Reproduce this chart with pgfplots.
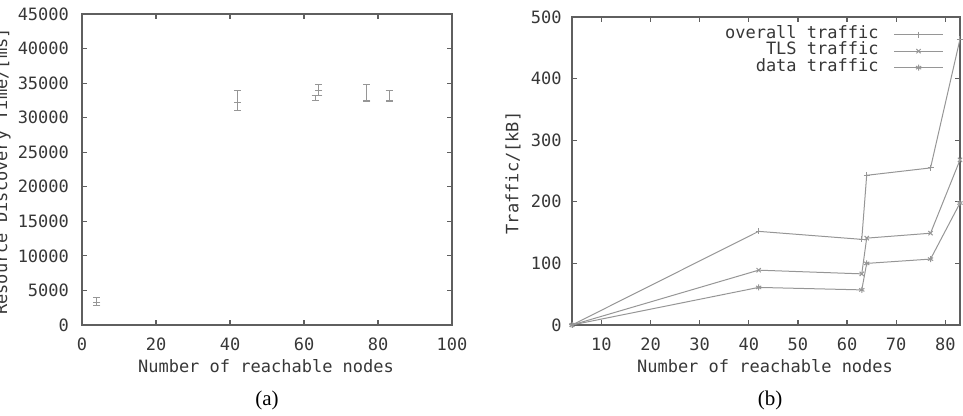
\documentclass[border=0pt]{standalone}
\usepackage{pgfplots}
\pgfplotsset{compat=1.18}
\usepackage{pgfplotstable}
\usepackage{fontspec}
\setmainfont{Liberation Serif}
\newfontfamily\gp{DejaVu Sans Mono}
\definecolor{axc}{RGB}{95,95,95}
\definecolor{txc}{RGB}{55,55,55}
\definecolor{lnc}{RGB}{150,150,150}

\pgfplotstableread{
x y ep em
4 3300 700 500
42 32200 1800 1200
63 32550 700 50
64 33900 950 750
77 32450 2300 50
83 32450 1550 50
}\discovery

\pgfplotstableread{
x overall tls data
4 0 0 0
42 152 89 61
63 139 83 57
64 243 141 100
77 255 149 107
83 464 268 198
}\traffic

\pgfplotsset{
 gpstyle/.style={
  scale only axis,
  axis line style={axc, line width=0.8pt},
  every tick/.style={axc, line width=0.6pt},
  tick align=inside,
  major tick length=2.5pt,
  minor tick num=0,
  ticklabel style={font=\gp\fontsize{8.5}{10}\selectfont, text=txc},
  /pgf/number format/assume math mode=true,
  /pgf/number format/set thousands separator={},
  scaled y ticks=false,
  xticklabel style={yshift=-3pt},
 }
}

\begin{document}
\begin{tikzpicture}
% (a)
\begin{axis}[gpstyle, at={(41pt,45.5pt)}, anchor=south west,
  width=185pt, height=155.5pt,
  xmin=0, xmax=100, ymin=0, ymax=45000,
  xtick={0,20,...,100}, ytick={0,5000,...,45000},
  yticklabel style={xshift=-3pt}]
\addplot[lnc, line width=0.5pt, only marks, mark=-, mark size=1.75pt,
  error bars/.cd, y dir=both, y explicit,
  error bar style={lnc, line width=0.5pt},
  error mark options={lnc, mark size=1.75pt, line width=0.5pt, rotate=90}]
  table[x=x, y=y, y error plus=ep, y error minus=em]{\discovery};
\end{axis}
% (b)
\begin{axis}[gpstyle, at={(286pt,45.5pt)}, anchor=south west,
  width=194pt, height=154pt,
  xmin=4, xmax=83, ymin=0, ymax=500,
  xtick={10,20,...,80}, ytick={0,100,...,500},
  yticklabel style={xshift=-1.7pt},
  legend style={draw=none, fill=none, at={(1,1)}, anchor=north east,
    xshift=-8pt, yshift=-4.5pt, inner sep=0pt, row sep=0pt, column sep=6.5pt,
    font=\gp\fontsize{8.5}{10}\selectfont, text=txc,
    nodes={inner sep=1pt, text height=5pt, text depth=1.25pt}},
  legend cell align=right,
  legend plot pos=right,
  legend image code/.code={\draw[mark repeat=2,mark phase=2,#1] plot coordinates {(0pt,0pt) (12.25pt,0pt) (24.5pt,0pt)};},
  every axis plot/.append style={lnc, line width=0.5pt, mark size=1.5pt, mark options={solid}}]
\addplot[mark=+] table[x=x, y=overall]{\traffic};
\addlegendentry{overall traffic}
\addplot[mark=x] table[x=x, y=tls]{\traffic};
\addlegendentry{TLS traffic}
\addplot[mark=asterisk] table[x=x, y=data]{\traffic};
\addlegendentry{data traffic}
\end{axis}
% labels
\node[font=\gp\fontsize{8.5}{10}\selectfont, text=txc] at (133pt,25pt) {Number of reachable nodes};
\node[font=\gp\fontsize{8.5}{10}\selectfont, text=txc] at (382.5pt,24.7pt) {Number of reachable nodes};
\node[font=\gp\fontsize{8.5}{10}\selectfont, text=txc, rotate=90, anchor=base] at (3.5pt,122.25pt) {Resource Discovery Time/[ms]};
\node[font=\gp\fontsize{8.5}{10}\selectfont, text=txc, rotate=90] at (256.5pt,121.5pt) {Traffic/[kB]};
\node[font=\fontsize{10.5}{12}\selectfont] at (133.5pt,8pt) {(a)};
\node[font=\fontsize{10.5}{12}\selectfont] at (385pt,8pt) {(b)};
\pgfresetboundingbox
\useasboundingbox (0pt,0pt) rectangle (481.5pt,208pt);
\end{tikzpicture}
\end{document}
